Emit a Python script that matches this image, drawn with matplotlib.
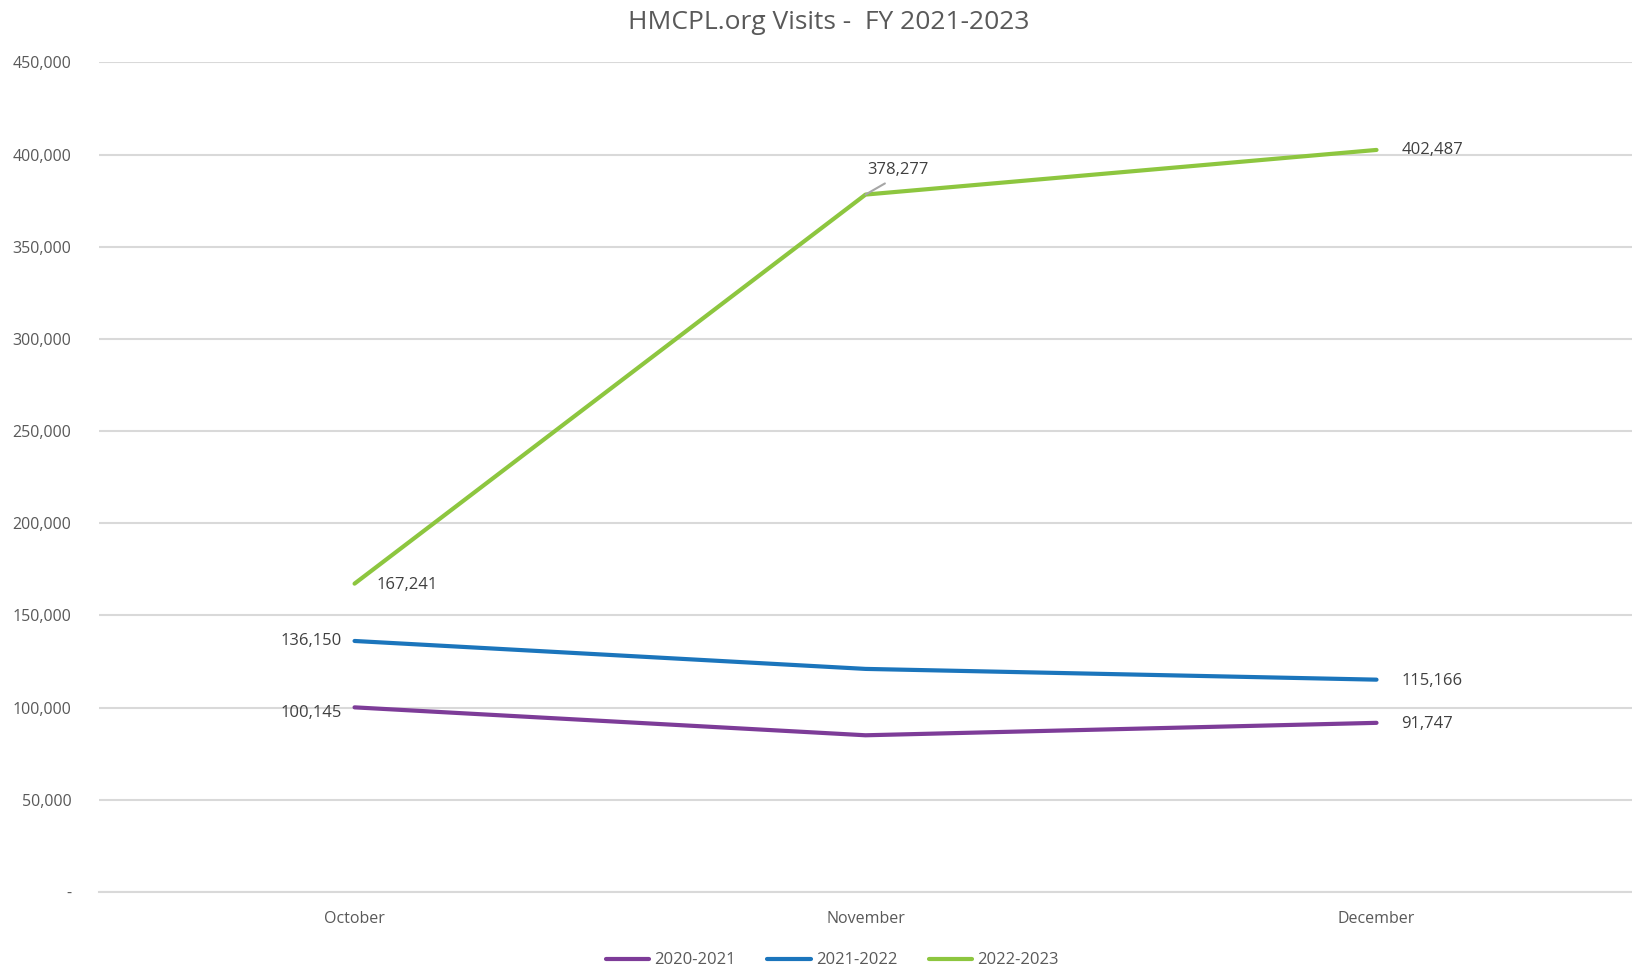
import matplotlib.pyplot as plt
from matplotlib.ticker import FuncFormatter

months = ["October", "November", "December"]
fy2021 = [100145, 85000, 91747]
fy2022 = [136150, 121000, 115166]
fy2023 = [167241, 378277, 402487]
series_names = ["2020-2021", "2021-2022", "2022-2023"]
colors = ["#7D3C98", "#1B75BC", "#8DC63F"]

plt.rcParams['font.family'] = ['Open Sans', 'DejaVu Sans']
grey = "#595959"

fig = plt.figure(figsize=(16.32, 9.74), dpi=100)
ax = fig.add_axes([0.0607, 0.0842, 0.9393, 0.8518])

x = range(len(months))
for vals, name, c in zip([fy2021, fy2022, fy2023], series_names, colors):
    ax.plot(x, vals, color=c, lw=3, label=name, solid_capstyle="round")

ax.set_xlim(-0.5, 2.5)
ax.set_ylim(0, 450000)
ax.set_yticks(range(0, 450001, 50000))
ax.yaxis.set_major_formatter(FuncFormatter(lambda v, p: "-" if v == 0 else f"{int(v):,}"))
ax.set_xticks(list(x))
ax.set_xticklabels(months)
ax.tick_params(axis="both", length=0, colors=grey, labelsize=11.5)
ax.tick_params(axis="x", pad=14)
ax.tick_params(axis="y", pad=20)
ax.grid(axis="y", color="#d9d9d9", lw=1.5)
ax.set_axisbelow(True)
for s in ["top", "right", "left"]:
    ax.spines[s].set_visible(False)
ax.spines["bottom"].set_color("#d9d9d9")
ax.spines["bottom"].set_linewidth(1.5)

lab = dict(fontsize=12, color="#404040")
# October
ax.annotate(f"{fy2021[0]:,}", (0, fy2021[0]), xytext=(-9, -4), textcoords="offset points", ha="right", va="center", **lab)
ax.annotate(f"{fy2022[0]:,}", (0, fy2022[0]), xytext=(-9, 0), textcoords="offset points", ha="right", va="center", **lab)
ax.annotate(f"{fy2023[0]:,}", (0, fy2023[0]), xytext=(16, -1), textcoords="offset points", ha="left", va="center", **lab)
# November
ax.annotate(f"{fy2023[1]:,}", (1, fy2023[1]), xytext=(1, 12), textcoords="offset points", ha="left", va="bottom",
            arrowprops=dict(arrowstyle="-", color="#a6a6a6", lw=1.5, shrinkA=4, shrinkB=0,
                            relpos=(0.45, 0.0)), **lab)
# December
ax.annotate(f"{fy2021[2]:,}", (2, fy2021[2]), xytext=(18, -1), textcoords="offset points", ha="left", va="center", **lab)
ax.annotate(f"{fy2022[2]:,}", (2, fy2022[2]), xytext=(18, -1), textcoords="offset points", ha="left", va="center", **lab)
ax.annotate(f"{fy2023[2]:,}", (2, fy2023[2]), xytext=(18, 0), textcoords="offset points", ha="left", va="center", **lab)

fig.text(0.508, 0.977, "HMCPL.org Visits -  FY 2021-2023", ha="center", va="center", fontsize=19, color=grey)
leg = fig.legend(loc="center", bbox_to_anchor=(0.51, 0.014), ncol=3, frameon=False, fontsize=12,
                 handlelength=2.6, columnspacing=1.9, handletextpad=0.3)
for t in leg.get_texts():
    t.set_color(grey)

fig.savefig("out.png", dpi=100)
